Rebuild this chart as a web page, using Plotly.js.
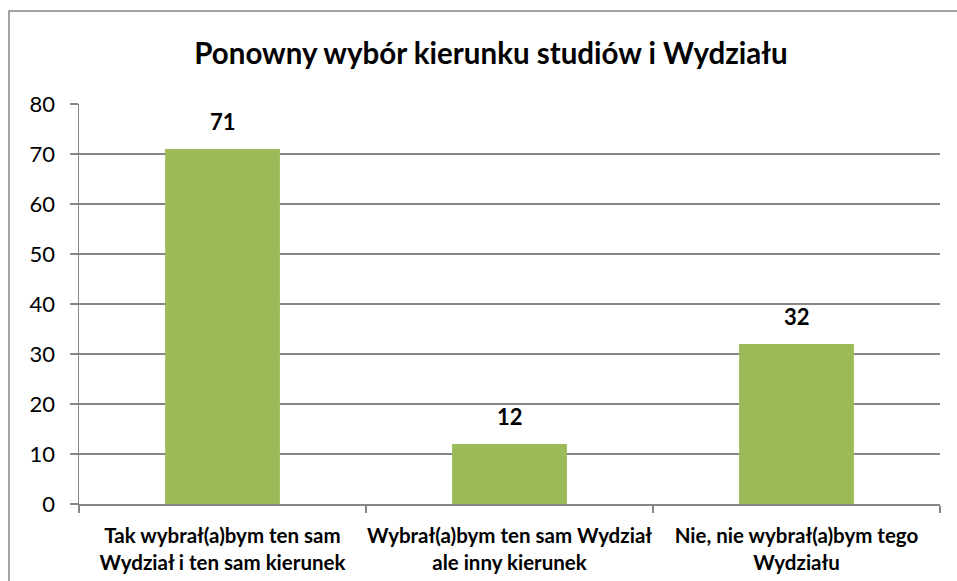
<!DOCTYPE html>
<html><head><meta charset="utf-8">
<script src="https://cdn.plot.ly/plotly-3.0.1.min.js"></script>
<style>body{margin:0;padding:0;background:#fff}#c{width:957px;height:581px}</style>
</head><body><div id="c"></div>
<script>
const categories = ["Tak wybrał(a)bym ten sam<br>Wydział i ten sam kierunek", "Wybrał(a)bym ten sam Wydział<br>ale inny kierunek", "Nie, nie wybrał(a)bym tego<br>Wydziału"];
const values = [71, 12, 32];
const titleText = "Ponowny wybór kierunku studiów i Wydziału";
const FONT = "Lato, 'Open Sans', sans-serif";

Plotly.newPlot("c", [{
  type: "bar",
  x: categories,
  y: values,
  marker: {color: "#9BBB59"},
  hoverinfo: "skip"
}], {
  width: 957, height: 581,
  margin: {l: 79, r: 17, t: 104, b: 77},
  paper_bgcolor: "#fff", plot_bgcolor: "#fff",
  bargap: 0.6,
  showlegend: false,
  title: {text: "<b>" + titleText + "</b>", xref: "container", x: 0.513, xanchor: "center", y: 0.907, yanchor: "middle",
          font: {family: FONT, size: 29.5, color: "#000"}},
  xaxis: {type: "category", showline: true, linecolor: "#868686", linewidth: 1.5,
          ticks: "outside", tickson: "boundaries", ticklen: 7, tickcolor: "#868686", tickwidth: 1.5,
          ticklabelstandoff: 13, tickangle: 0, automargin: false,
          tickfont: {family: FONT, size: 20.5, color: "#000", weight: "bold"}, showgrid: false},
  yaxis: {range: [0, 80], dtick: 10, showline: true, linecolor: "#868686", linewidth: 1.5,
          ticks: "outside", ticklen: 8, tickcolor: "#868686", tickwidth: 1.5, gridcolor: "#868686", gridwidth: 1.5,
          ticklabelstandoff: 10, automargin: false,
          tickfont: {family: FONT, size: 22, color: "#000"}, zeroline: false},
  annotations: values.map((v, i) => ({x: categories[i], y: v, xref: "x", yref: "y", text: "<b>" + v + "</b>",
            showarrow: false, yanchor: "bottom", yshift: 12,
            font: {family: FONT, size: 22, color: "#000"}})),
  shapes: [{type: "rect", xref: "paper", yref: "paper", x0: -0.0813, x1: 1.05, y0: -0.3, y1: 1.2325,
            line: {color: "#868686", width: 1.5}, fillcolor: "rgba(0,0,0,0)", layer: "below"}]
}, {displayModeBar: false, staticPlot: true});
</script></body></html>
